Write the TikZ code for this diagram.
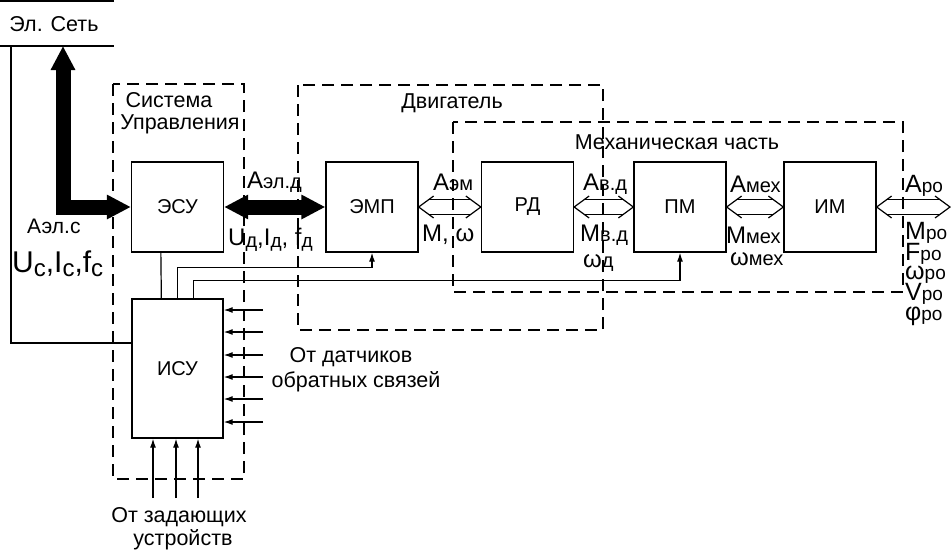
\documentclass[tikz,border=0pt]{standalone}
\usepackage{fontspec}
\setmainfont{Liberation Sans}
\usetikzlibrary{arrows.meta,calc}
\newcommand\fsz[1]{\fontsize{#1}{#1}\selectfont}
\newcommand\asub[2]{{\fsz{24}#1}{\fsz{20}#2}}
\newcommand\rsub[2]{\raisebox{0pt}[\height][0pt]{{\fsz{25}#1}{\fsz{19}#2}}}
\newcommand\holarr[2]{%
  \draw[ln] ($(#1)+(15,-11)$) -- (#1) -- ($(#1)+(15,11)$);
  \draw[ln] ($(#2)+(-15,-11)$) -- (#2) -- ($(#2)+(-15,11)$);
  \draw[ln] ($(#1)+(10,-7.5)$) -- ($(#2)+(-10,-7.5)$);
  \draw[ln] ($(#1)+(10,7.5)$) -- ($(#2)+(-10,7.5)$);}
\begin{document}
\begin{tikzpicture}[x=1pt,y=-1pt,
  blk/.style={draw,line width=1.3pt,minimum width=92pt,minimum height=90pt,inner sep=0pt,font=\fsz{20}},
  grp/.style={draw,line width=1.3pt,dash pattern=on 12pt off 7pt},
  ln/.style={line width=1.2pt},
  arr/.style={line width=1.2pt,-{Latex[length=9pt,width=6pt]}},
  fat/.style={line width=15pt,line join=miter,{Triangle[length=24pt,width=23pt]}-{Triangle[length=24pt,width=23pt]}},
  txt/.style={inner sep=0pt,font=\fsz{21.5}},
  lab/.style={inner sep=0pt,anchor=base west}]
\useasboundingbox (0,0) rectangle (951,552);
% mains
\coordinate (t1) at (0,1); \coordinate (t2) at (114,1);
\coordinate (m1) at (0,46); \coordinate (m2) at (114,46);
\draw[ln] (t1) -- (t2);
\draw[ln] (m1) -- (m2);
\node[txt] (net) at (54,24) {Эл. Сеть};
% groups
\draw[grp] (113,84) rectangle (244,479);
\draw[grp] (298,85) rectangle (603,330);
\draw[grp] (453,122) rectangle (903,292);
\node[txt] (su1) at (169,100) {Система};
\node[txt] (su2) at (180,124) {Управления};
\node[txt] (dv) at (452,103) {Двигатель};
\node[txt] (mc) at (677,142) {Механическая часть};
% blocks
\node[blk] (esu) at (177.5,207) {ЭСУ};
\node[blk] (emp) at (372,207) {ЭМП};
\node[blk] (rd) at (527.5,207) {РД};
\node[blk] (pm) at (680,207) {ПМ};
\node[blk] (im) at (830,207) {ИМ};
\node[blk,minimum width=91pt,minimum height=139pt] (isu) at (177.5,368.5) {ИСУ};
% power arrows
\coordinate (mt) at (63,46);
\coordinate (cn) at (63,207);
\draw[fat] (mt) -- (cn) -- (esu.west);
\draw[fat] (esu.east) -- (emp.west);
\coordinate (out) at (950,207);
\holarr{emp.east}{rd.west}
\holarr{rd.east}{pm.west}
\holarr{pm.east}{im.west}
\holarr{im.east}{out}
% left supply line
\coordinate (lv) at (11,46);
\coordinate (lh) at (11,343);
\draw[ln] (lv) -- (lh) -- (lh -| isu.west);
% feedback / control lines
\draw[ln] ([xshift=30pt]esu.south west) -- ([xshift=30pt]isu.north west);
\draw[arr] ([xshift=46pt]isu.north west) |- ([yshift=-15pt]emp.south) -- (emp.south);
\draw[arr] ([xshift=62pt]isu.north west) |- ([yshift=-28pt]pm.south) -- (pm.south);
% sensor inputs
\foreach \yy in {310,332,355,377,399,422}{
  \coordinate (s) at (263,\yy);
  \draw[arr] (s) -- (s -| isu.east);
}
\foreach \xx in {153,176,198}{
  \coordinate (z) at (\xx,498);
  \draw[arr] (z) -- (z |- isu.south);
}
\node[txt] (fb1) at (351,357) {От датчиков};
\node[txt] (fb2) at (356,382) {обратных связей};
\node[txt] (zd1) at (179,517) {От задающих};
\node[txt] (zd2) at (183,540) {устройств};
% labels
\node[lab,font=\fsz{21}] (aels) at (27,233) {Аэл.с};
\node[lab] (uc) at (12,272) {{\fsz{30}U}\raisebox{-4pt}{\fsz{24}с}{\fsz{30},I}\raisebox{-4pt}{\fsz{24}с}{\fsz{30},f}\raisebox{-4pt}{\fsz{24}с}};
\node[lab] (aeld) at (247,188) {\asub{А}{эл.д}};
\node[lab] (ud) at (228,245) {\asub{U}{\raisebox{-2pt}{д}}{\fsz{24},I}{\fsz{19}\raisebox{-2pt}{д}}{\fsz{24}, f}{\fsz{19}\raisebox{-2pt}{д}}};
\node[lab] (aem) at (433,190) {\asub{А}{эм}};
\node[lab] (mw) at (422,241) {{\fsz{24}M, ω}};
\node[lab] (avd) at (583,190) {\asub{А}{в.д}};
\node[lab] (mvd) at (580,241) {\asub{M}{в.д}};
\node[lab] (wd) at (583,267) {\asub{ω}{д}};
\node[lab] (amex) at (730,192) {\asub{А}{мех}};
\node[lab] (mmex) at (726,243) {\asub{M}{мех}};
\node[lab] (wmex) at (730,265) {\asub{ω}{мех}};
\node[lab] (aro) at (905,192) {\rsub{А}{ро}};
\node[lab] (mro) at (905,239) {\rsub{M}{ро}};
\node[lab] (fro) at (905,260) {\rsub{F}{ро}};
\node[lab] (wro) at (905,279) {\rsub{ω}{ро}};
\node[lab] (vro) at (905,300) {\rsub{V}{ро}};
\node[lab] (pro) at (905,320) {\rsub{φ}{ро}};
\end{tikzpicture}
\end{document}
